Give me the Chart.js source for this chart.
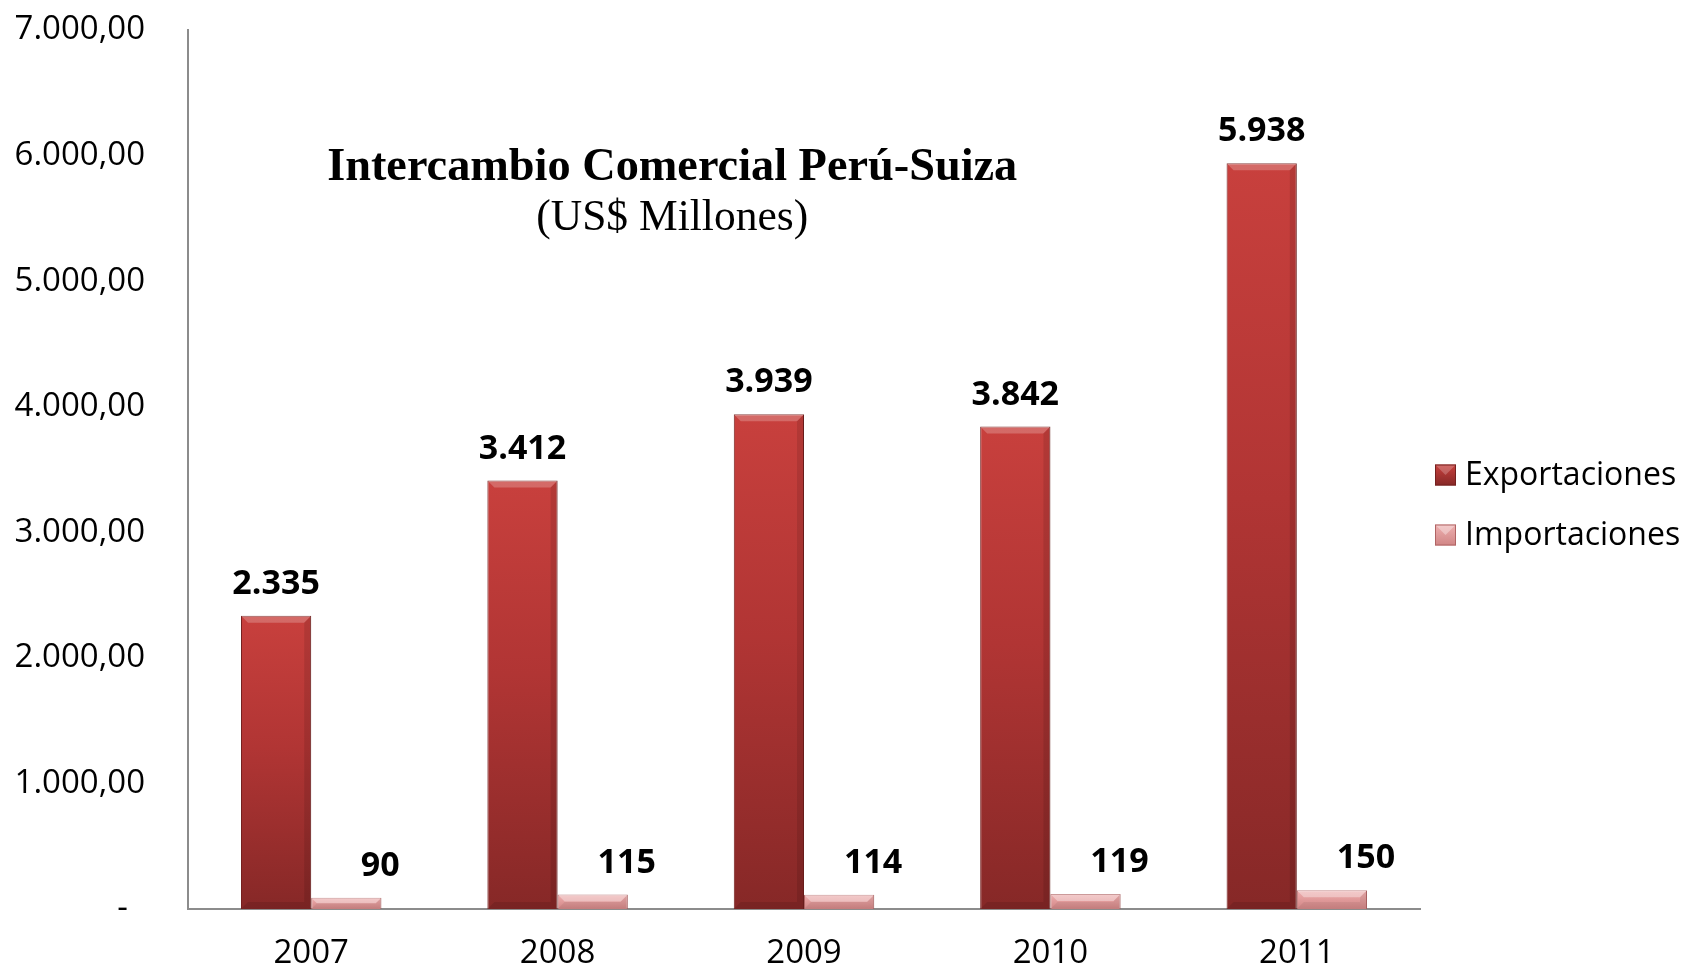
<!DOCTYPE html>
<html><head><meta charset="utf-8">
<script src="https://cdn.jsdelivr.net/npm/chart.js@4/dist/chart.umd.min.js"></script>
<style>html,body{margin:0;padding:0;background:#fff}#wrap{width:1689px;height:970px}</style>
</head><body><div id="wrap"><canvas id="c" width="1689" height="970"></canvas></div>
<script>
const categories = ['2007', '2008', '2009', '2010', '2011'];
const exportaciones = [2335, 3412, 3939, 3842, 5938];
const importaciones = [90, 115, 114, 119, 150];
const seriesNames = ['Exportaciones', 'Importaciones'];
const yTickValues = [0, 1000, 2000, 3000, 4000, 5000, 6000, 7000];
const titleText = 'Intercambio Comercial Perú-Suiza';
const subtitleText = '(US$ Millones)';

const FONT = "'Open Sans', 'Noto Sans', sans-serif";
const SERIF = "'Liberation Serif', 'DejaVu Serif', serif";

function groupThousands(n) {
  const s = String(Math.round(n));
  return s.replace(/\B(?=(\d{3})+(?!\d))/g, '.');
}
function tickFmt(v) {
  return v === 0 ? '-  ' : groupThousands(v) + ',00';
}

const palette = [
  {top: '#c8403d', mid: '#b13534', bottom: '#862827', border: '#74201f', bevel: 'rgba(255,255,255,0.22)', edge: 'rgba(0,0,0,0.10)'},
  {top: '#eeb0b0', mid: '#e29c9c', bottom: '#d08585', border: '#b06464', bevel: 'rgba(255,255,255,0.35)', edge: 'rgba(0,0,0,0.06)'}
];

function barGradient(ctx, dsIndex) {
  const chart = ctx.chart;
  const p = palette[dsIndex];
  if (!chart.chartArea || !chart.scales.y) return p.mid;
  const yTop = chart.scales.y.getPixelForValue(ctx.raw);
  const yBot = chart.scales.y.getPixelForValue(0);
  if (!isFinite(yTop) || Math.abs(yBot - yTop) < 1) return p.mid;
  const g = chart.ctx.createLinearGradient(0, yTop, 0, yBot);
  g.addColorStop(0, p.top);
  g.addColorStop(0.45, p.mid);
  g.addColorStop(1, p.bottom);
  return g;
}

const bevelPlugin = {
  id: 'bevel',
  afterDatasetsDraw(chart) {
    const ctx = chart.ctx;
    chart.data.datasets.forEach((ds, di) => {
      const meta = chart.getDatasetMeta(di);
      const p = palette[di];
      meta.data.forEach(el => {
        const {x, y, base, width} = el.getProps(['x', 'y', 'base', 'width'], true);
        const l = x - width / 2, r = x + width / 2, t = y, b = base;
        const bv = Math.min(7, (b - t) / 2);
        ctx.save();
        ctx.fillStyle = p.bevel;
        ctx.beginPath();
        ctx.moveTo(l, t); ctx.lineTo(r, t); ctx.lineTo(r - bv, t + bv); ctx.lineTo(l + bv, t + bv); ctx.closePath();
        ctx.fill();
        ctx.fillStyle = p.edge;
        ctx.beginPath();
        ctx.moveTo(r, t); ctx.lineTo(r, b); ctx.lineTo(r - bv, b - bv); ctx.lineTo(r - bv, t + bv); ctx.closePath();
        ctx.fill();
        ctx.beginPath();
        ctx.moveTo(l, b); ctx.lineTo(r, b); ctx.lineTo(r - bv, b - bv); ctx.lineTo(l + bv, b - bv); ctx.closePath();
        ctx.fill();
        ctx.restore();
      });
    });
  }
};

const labelPlugin = {
  id: 'valueLabels',
  afterDatasetsDraw(chart) {
    const ctx = chart.ctx;
    ctx.save();
    ctx.font = "bold 34px " + FONT;
    ctx.fillStyle = '#000';
    ctx.textAlign = 'center';
    ctx.textBaseline = 'alphabetic';
    chart.data.datasets.forEach((ds, di) => {
      const meta = chart.getDatasetMeta(di);
      meta.data.forEach((el, i) => {
        const shift = di === 0 ? 0 : 34;
        ctx.fillText(groupThousands(ds.data[i]), el.x + shift, el.y - 22);
      });
    });
    ctx.restore();
  }
};

const decorPlugin = {
  id: 'decor',
  afterDraw(chart) {
    const ctx = chart.ctx;
    const area = chart.chartArea;
    ctx.save();
    ctx.fillStyle = '#000';
    ctx.textAlign = 'center';
    ctx.textBaseline = 'alphabetic';
    const cx = area.left + (area.right - area.left) * 0.393;
    ctx.font = "bold 40px " + SERIF;
    let w = ctx.measureText(titleText).width;
    let fs = 40 * 690 / w;
    ctx.font = "bold " + fs.toFixed(1) + "px " + SERIF;
    ctx.fillText(titleText, cx, 180);
    ctx.font = "40px " + SERIF;
    w = ctx.measureText(subtitleText).width;
    fs = 40 * 272 / w;
    ctx.font = fs.toFixed(1) + "px " + SERIF;
    ctx.fillText(subtitleText, cx, 230);

    const lx = area.right + 15;
    const rows = [475, 535];
    ctx.textAlign = 'left';
    ctx.textBaseline = 'middle';
    ctx.font = "32px " + FONT;
    chart.data.datasets.forEach((ds, di) => {
      const p = palette[di];
      const y = rows[di];
      const s = 21;
      const g = ctx.createLinearGradient(0, y - s / 2, 0, y + s / 2);
      g.addColorStop(0, p.top); g.addColorStop(1, p.bottom);
      ctx.fillStyle = g;
      ctx.fillRect(lx, y - s / 2, s, s);
      ctx.fillStyle = p.bevel;
      ctx.beginPath();
      ctx.moveTo(lx, y - s / 2); ctx.lineTo(lx + s, y - s / 2); ctx.lineTo(lx + s / 2, y); ctx.closePath();
      ctx.fill();
      ctx.strokeStyle = p.border; ctx.lineWidth = 1;
      ctx.strokeRect(lx + 0.5, y - s / 2 + 0.5, s - 1, s - 1);
      ctx.fillStyle = '#000';
      ctx.fillText(ds.label, lx + 30, y + 1);
    });
    ctx.restore();
  }
};

new Chart(document.getElementById('c'), {
  type: 'bar',
  data: {
    labels: categories,
    datasets: [
      {label: seriesNames[0], data: exportaciones,
       backgroundColor: (c) => barGradient(c, 0), borderColor: palette[0].border, borderWidth: 1,
       barPercentage: 1, categoryPercentage: 0.57},
      {label: seriesNames[1], data: importaciones,
       backgroundColor: (c) => barGradient(c, 1), borderColor: palette[1].border, borderWidth: 1,
       barPercentage: 1, categoryPercentage: 0.57}
    ]
  },
  options: {
    responsive: false,
    animation: false,
    devicePixelRatio: 1,
    layout: {padding: {top: 0, right: 269, left: 0, bottom: 0}},
    plugins: {legend: {display: false}, title: {display: false}, tooltip: {enabled: false}},
    scales: {
      x: {
        grid: {display: false, drawTicks: false},
        border: {display: true, color: '#8c8c8c', width: 2},
        ticks: {font: {family: FONT, size: 33}, color: '#000', padding: 25},
        afterFit(scale) { scale.height = 61; }
      },
      y: {
        min: 0, max: 7000,
        grid: {display: false, drawTicks: false},
        border: {display: true, color: '#8c8c8c', width: 2},
        afterBuildTicks(scale) { scale.ticks = yTickValues.map(v => ({value: v})); },
        ticks: {font: {family: FONT, size: 33}, color: '#000', padding: 43, callback: (v) => tickFmt(v)},
        afterFit(scale) { scale.width = 188; scale.paddingTop = 30; scale.paddingBottom = 0; }
      }
    }
  },
  plugins: [bevelPlugin, labelPlugin, decorPlugin]
});
</script>
</body></html>
